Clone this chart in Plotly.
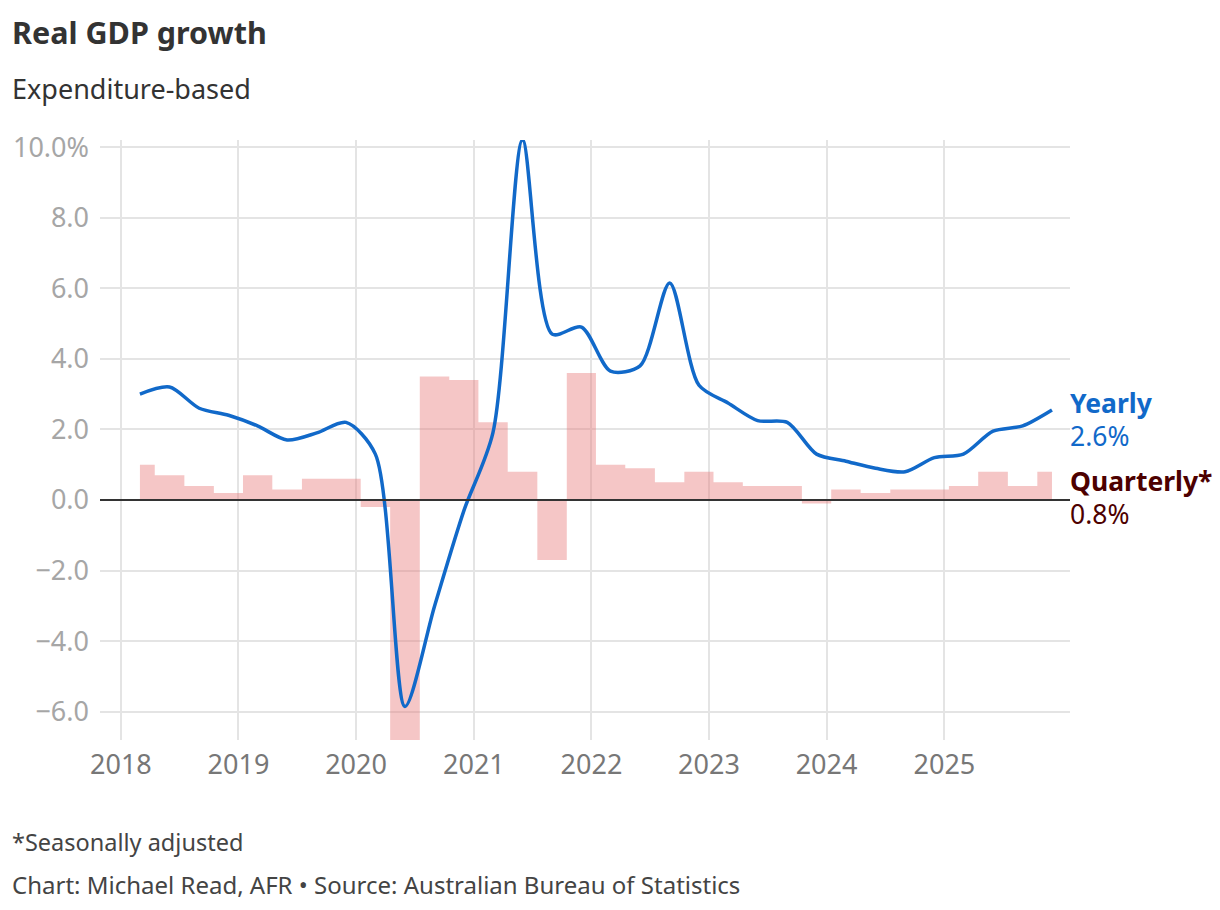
import pandas as pd
import plotly.graph_objects as go

# quarterly observations, Mar 2018 .. Dec 2025
quarters = pd.date_range("2018-03-01", periods=32, freq="3MS")

# quarterly growth, seasonally adjusted (%)
quarterly = [
    1.0, 0.7, 0.4, 0.2, 0.7, 0.3, 0.6, 0.6,
    -0.2, -7.0, 3.5, 3.4, 2.2, 0.8, -1.7, 3.6,
    1.0, 0.9, 0.5, 0.8, 0.5, 0.4, 0.4, -0.1,
    0.3, 0.2, 0.3, 0.3, 0.4, 0.8, 0.4, 0.8,
]

# year-on-year growth (%)
yearly = [
    3.0, 3.2, 2.6, 2.4, 2.1, 1.7, 1.9, 2.2,
    1.3, -5.85, -3.0, -0.3, 1.9, 10.2, 4.7, 4.9,
    3.65, 3.8, 6.15, 3.25, 2.75, 2.25, 2.2, 1.3,
    1.1, 0.9, 0.8, 1.2, 1.3, 1.95, 2.1, 2.55,
]

year_ticks = [f"{y}-01-01" for y in range(2018, 2026)]
year_labels = [str(y) for y in range(2018, 2026)]

y_ticks = [-6, -4, -2, 0, 2, 4, 6, 8, 10]
y_tick_text = ["\u22126.0", "\u22124.0", "\u22122.0", "0.0", "2.0", "4.0", "6.0", "8.0", "10.0%"]

FONT = "Noto Sans"
BLUE = "#1169c9"
MAROON = "#4d0000"

fig = go.Figure()

# quarterly bars drawn as a centred step area
fig.add_trace(
    go.Scatter(
        x=quarters,
        y=quarterly,
        mode="lines",
        line=dict(shape="hvh", width=0, color="rgba(0,0,0,0)"),
        fill="tozeroy",
        fillcolor="rgba(232,120,120,0.42)",
        hoverinfo="skip",
        showlegend=False,
    )
)

fig.add_trace(
    go.Scatter(
        x=quarters,
        y=yearly,
        mode="lines",
        line=dict(shape="spline", smoothing=0.8, width=3.5, color=BLUE),
        showlegend=False,
    )
)

fig.add_hline(y=0, line_color="#333333", line_width=2)

fig.update_layout(
    width=1220,
    height=910,
    margin=dict(l=100, r=150, t=140, b=170),
    paper_bgcolor="white",
    plot_bgcolor="white",
    font=dict(family=FONT, color="#333333"),
    xaxis=dict(
        type="date",
        range=["2017-10-28", "2026-01-26"],
        tickvals=year_ticks,
        ticktext=year_labels,
        showgrid=True,
        gridcolor="#e4e4e4",
        gridwidth=1.5,
        zeroline=False,
        showline=False,
        ticks="",
        tickfont=dict(size=27, color="#777777"),
        ticklabelstandoff=6,
    ),
    yaxis=dict(
        range=[-6.8, 10.2],
        tickvals=y_ticks,
        ticktext=y_tick_text,
        showgrid=True,
        gridcolor="#e4e4e4",
        gridwidth=1.5,
        zeroline=False,
        showline=False,
        ticks="",
        tickfont=dict(size=27, color="#a6a6a6"),
        ticklabelstandoff=10,
    ),
)

annotations = [
    dict(text="<b>Real GDP growth</b>", x=10, y=32, size=30.5, color="#333333"),
    dict(text="Expenditure-based", x=10, y=88, size=27, color="#333333"),
    dict(text="*Seasonally adjusted", x=10, y=842, size=23.5, color="#444444"),
    dict(
        text="Chart: Michael Read, AFR \u2022 Source: Australian Bureau of Statistics",
        x=10, y=884, size=24, color="#444444",
    ),
]
for a in annotations:
    fig.add_annotation(
        text=a["text"],
        xref="paper", yref="paper",
        x=(a["x"] - 100) / 970,
        y=1 - (a["y"] - 140) / 600,
        xanchor="left", yanchor="middle",
        showarrow=False,
        font=dict(size=a["size"], color=a["color"], family=FONT),
    )

# end labels
labels = [
    ("<b>Yearly</b>", 403, BLUE),
    ("2.6%", 436, BLUE),
    ("<b>Quarterly*</b>", 481, MAROON),
    ("0.8%", 514, MAROON),
]
for text, ypx, color in labels:
    fig.add_annotation(
        text=text,
        xref="paper", yref="paper",
        x=1, y=1 - (ypx - 140) / 600,
        xanchor="left", yanchor="middle",
        xshift=-2,
        showarrow=False,
        font=dict(size=26.5, color=color, family=FONT),
    )

fig.write_html(
    "out.html",
    config={"displayModeBar": False},
    post_script="document.body.style.margin='0';",
)
